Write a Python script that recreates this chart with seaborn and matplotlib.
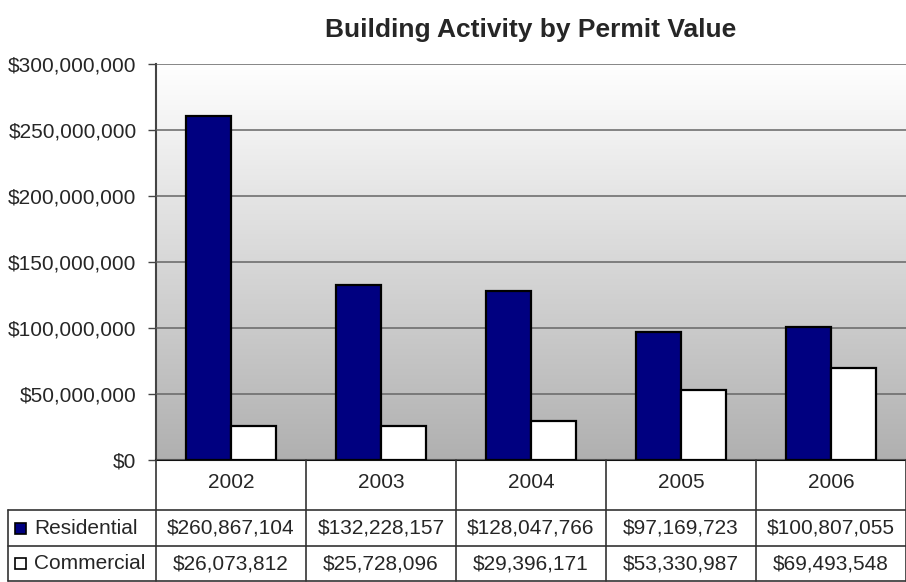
import numpy as np
import pandas as pd
import matplotlib
matplotlib.use("Agg")
import matplotlib.pyplot as plt
from matplotlib.colors import LinearSegmentedColormap
from matplotlib.ticker import FuncFormatter, MultipleLocator
from matplotlib.patches import Rectangle
import seaborn as sns

# Data
years = ["2002", "2003", "2004", "2005", "2006"]
residential = [260867104, 132228157, 128047766, 97169723, 100807055]
commercial = [26073812, 25728096, 29396171, 53330987, 69493548]
series = ["Residential", "Commercial"]
colors = ["#000080", "#ffffff"]

sns.set_style("white")
plt.rcParams["font.family"] = ["Liberation Sans", "DejaVu Sans"]

df = pd.DataFrame({
    "year": years * 2,
    "value": residential + commercial,
    "type": [series[0]] * len(years) + [series[1]] * len(years),
})

W, H = 906, 582
fig = plt.figure(figsize=(W / 100, H / 100), dpi=100)
fig.patch.set_facecolor("white")

# plot area (pixel layout)
left, right, top, bottom = 156, 906, 64, 460
ax = fig.add_axes([left / W, 1 - bottom / H, (right - left) / W, (bottom - top) / H])

sns.barplot(data=df, x="year", y="value", hue="type", palette=colors, width=0.6,
            edgecolor="black", linewidth=1.6, saturation=1, ax=ax, legend=False, zorder=3)

ax.set_xlim(-0.5, len(years) - 0.5)
ax.set_ylim(0, 300000000)

# gradient background
cmap = LinearSegmentedColormap.from_list("bg", ["#b0b0b0", "#ffffff"])
grad = np.linspace(0, 1, 256).reshape(-1, 1)
ax.imshow(grad, cmap=cmap, origin="lower", aspect="auto",
          extent=[-0.5, len(years) - 0.5, 0, 300000000], zorder=0)

ax.yaxis.set_major_locator(MultipleLocator(50000000))
ax.yaxis.set_major_formatter(FuncFormatter(lambda v, p: f"${v:,.0f}"))
ax.grid(axis="y", color="#666666", linewidth=1.1, zorder=1)
ax.set_axisbelow(False)
for line in ax.get_ygridlines():
    line.set_zorder(1)
ax.tick_params(axis="y", labelsize=15, length=6, width=1, color="#444444", left=True, pad=8)
ax.tick_params(axis="x", bottom=False, labelbottom=False)
ax.set_xlabel("")
ax.set_ylabel("")
for s in ["top", "right"]:
    ax.spines[s].set_visible(False)
ax.spines["left"].set_color("#444444")
ax.spines["left"].set_linewidth(1.5)
ax.spines["bottom"].set_color("#111111")
ax.spines["bottom"].set_linewidth(1.5)

fig.text((left + right) / 2 / W, 1 - 30 / H, "Building Activity by Permit Value", ha="center", va="center",
         fontsize=19, fontweight="bold")

# data table below the chart, in pixel coordinates
tb = fig.add_axes([0, 0, 1, 1], zorder=5)
tb.set_xlim(0, W)
tb.set_ylim(H, 0)
tb.axis("off")

colw = (right - left) / len(years)
row_y = [bottom, 510, 546, 581]
lc = "#333333"
lw = 1.2

tb.plot([left, left], [bottom, row_y[3]], color=lc, lw=lw)
for i in range(1, len(years) + 1):
    x = left + colw * i
    tb.plot([x, x], [bottom, row_y[3]], color=lc, lw=lw)
tb.plot([8, 8], [row_y[1], row_y[3]], color=lc, lw=lw)
for y in row_y[1:]:
    tb.plot([8, W], [y, y], color=lc, lw=lw)

fs = 15
for i, yr in enumerate(years):
    cx = left + colw * (i + 0.5)
    tb.text(cx, (row_y[0] + row_y[1]) / 2 - 2, yr, ha="center", va="center", fontsize=fs)
    tb.text(cx, (row_y[1] + row_y[2]) / 2, f"${residential[i]:,}", ha="center", va="center", fontsize=fs)
    tb.text(cx, (row_y[2] + row_y[3]) / 2, f"${commercial[i]:,}", ha="center", va="center", fontsize=fs)

for j, name in enumerate(series):
    cy = (row_y[j + 1] + row_y[j + 2]) / 2
    tb.add_patch(Rectangle((15, cy - 5.5), 11, 11, facecolor=colors[j], edgecolor="black", lw=1.2))
    tb.text(34, cy, name, ha="left", va="center", fontsize=fs)

fig.savefig("out.png", dpi=100)
